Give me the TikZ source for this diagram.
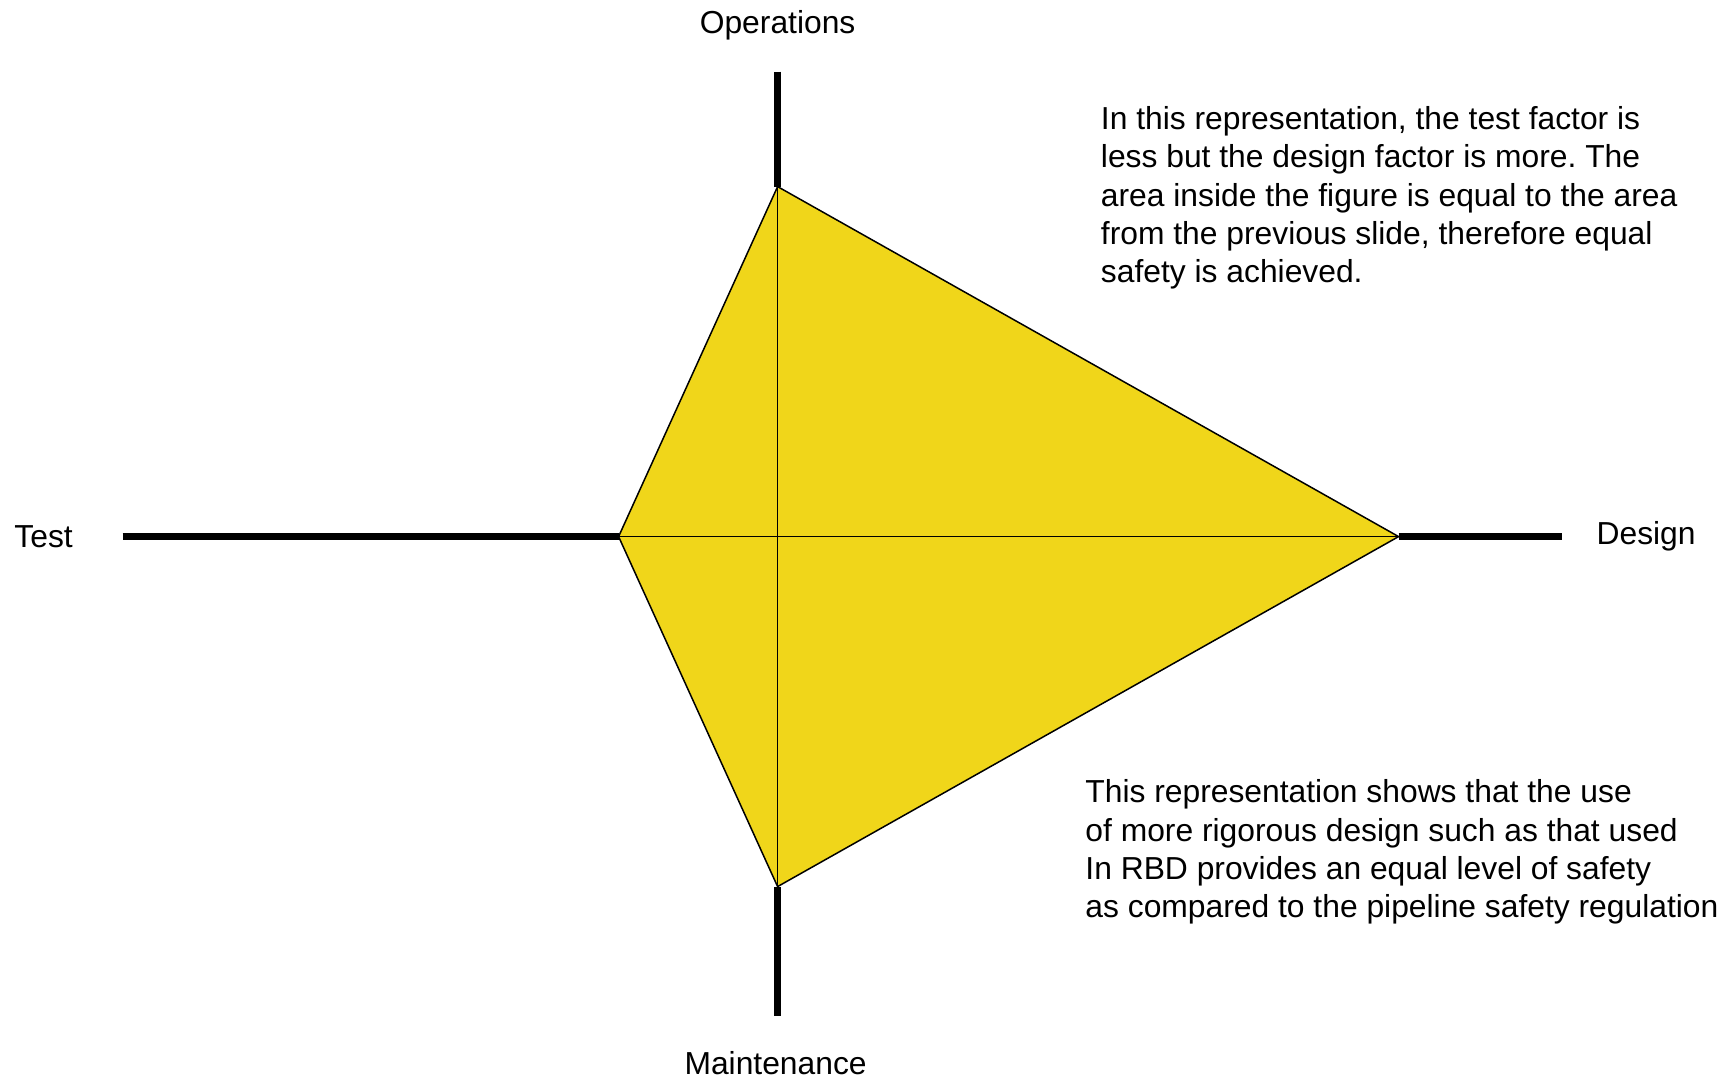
\documentclass[tikz,border=0pt]{standalone}
\usepackage{fontspec}
\setmainfont{Liberation Sans}
\definecolor{kiteyellow}{RGB}{240,214,26}

\begin{document}
\frenchspacing
\begin{tikzpicture}[
  axe/.style={line width=4.4pt},
  fin/.style={line width=0.85pt},
  etiquette/.style={font=\fontsize{18.1}{21.8}\selectfont, inner sep=0pt},
  bloc/.style={etiquette, align=left, anchor=north west}]

% Cadre
\useasboundingbox[fill=white] (-15.552,-10.808) rectangle (18.788,10.732);

% Extremites des axes
\coordinate (haut) at (0,9.3);
\coordinate (bas) at (0,-9.58);
\coordinate (gauche) at (-13.1,0);
\coordinate (droite) at (15.68,0);

% Sommets du cerf-volant
\coordinate (op) at (0,7.0);
\coordinate (ma) at (0,-7.0);
\coordinate (te) at (-3.18,0);
\coordinate (de) at (12.42,0);

% Surface
\draw[fin, fill=kiteyellow] (op) -- (de) -- (ma) -- (te) -- cycle;
\draw[fin] (op) -- (ma);
\draw[fin] (te) -- (de);

% Axes
\draw[axe] (haut) -- (op);
\draw[axe] (ma) -- (bas);
\draw[axe] (gauche) -- (te);
\draw[axe] (de) -- (droite);

% Noms des axes
\node[etiquette] (nop) at (0,10.22) {Operations};
\node[etiquette] (nma) at (-0.04,-10.53) {Maintenance};
\node[etiquette] (nte) at (-14.68,0.0) {Test};
\node[etiquette] (nde) at (17.37,0.0) {Design};

% Commentaires
\node[bloc] (texte1) at (6.46,8.61) {In this representation, the test factor is\\
less but the design factor is more. The\\
area inside the figure is equal to the area\\
from the previous slide, therefore equal\\
safety is achieved.};
\node[bloc] (texte2) at (6.15,-4.86) {This representation shows that the use\\
of more rigorous design such as that used\\
In RBD provides an equal level of safety\\
as compared to the pipeline safety regulation};

\end{tikzpicture}
\end{document}
